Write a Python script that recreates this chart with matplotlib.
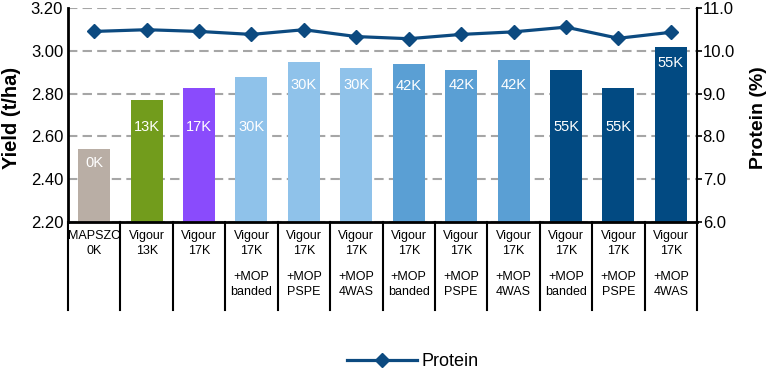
import matplotlib
matplotlib.use("Agg")
import matplotlib.pyplot as plt
import matplotlib.transforms as mtransforms

plt.rcParams['font.family'] = ['Liberation Sans', 'DejaVu Sans']

# treatment labels (top line pair / bottom line pair)
top_labels = ["MAPSZC\n0K", "Vigour\n13K", "Vigour\n17K", "Vigour\n17K", "Vigour\n17K", "Vigour\n17K",
              "Vigour\n17K", "Vigour\n17K", "Vigour\n17K", "Vigour\n17K", "Vigour\n17K", "Vigour\n17K"]
bottom_labels = ["", "", "", "+MOP\nbanded", "+MOP\nPSPE", "+MOP\n4WAS",
                 "+MOP\nbanded", "+MOP\nPSPE", "+MOP\n4WAS", "+MOP\nbanded", "+MOP\nPSPE", "+MOP\n4WAS"]
k_labels = ["0K", "13K", "17K", "30K", "30K", "30K", "42K", "42K", "42K", "55K", "55K", "55K"]
yield_t_ha = [2.54, 2.77, 2.825, 2.876, 2.946, 2.918, 2.938, 2.909, 2.956, 2.909, 2.825, 3.016]
protein_pct = [10.45, 10.49, 10.45, 10.38, 10.49, 10.33, 10.28, 10.38, 10.44, 10.55, 10.29, 10.43]

bar_colors = ['#b9aea5', '#729c1c', '#8a4bfc', '#8fc2ea', '#8fc2ea', '#8fc2ea',
              '#5a9fd4', '#5a9fd4', '#5a9fd4', '#024a82', '#024a82', '#024a82']
label_y = [2.476, 2.644, 2.644, 2.644, 2.84, 2.84, 2.835, 2.84, 2.84, 2.644, 2.644, 2.944]
line_color = '#0c4a80'

fig = plt.figure(figsize=(7.7, 3.75), dpi=100)
ax = fig.add_axes([0.0883, 0.408, 0.817, 0.571])
x = list(range(len(yield_t_ha)))

ax.bar(x, yield_t_ha, width=0.61, color=bar_colors, zorder=2)
for i, lab in enumerate(k_labels):
    ax.text(i, label_y[i], lab, color='white', ha='center', va='center', fontsize=10.5, zorder=3)

ax.set_ylim(2.2, 3.2)
ax.set_xlim(-0.5, len(x) - 0.5)
ax.set_yticks([2.2, 2.4, 2.6, 2.8, 3.0, 3.2])
ax.set_yticklabels(["%.2f" % v for v in [2.2, 2.4, 2.6, 2.8, 3.0, 3.2]], fontsize=12)
ax.tick_params(axis='y', length=0, pad=3.5)
ax.set_xticks([])
ax.yaxis.grid(True, color='#a6a6a6', linewidth=1.5, linestyle=(0, (4.5, 2.5)))
ax.set_axisbelow(True)
ax.set_ylabel("Yield (t/ha)", fontsize=14.5, fontweight='bold')
ax.yaxis.set_label_coords(-0.0747, 0.486)
for s in ['top', 'right']:
    ax.spines[s].set_visible(False)
ax.spines['left'].set_linewidth(2)
ax.spines['bottom'].set_linewidth(2)

# category table under the axis
trans = mtransforms.blended_transform_factory(ax.transData, ax.transAxes)
for b in [i - 0.5 for i in range(len(x) + 1)]:
    ax.plot([b, b], [0, -0.411], transform=trans, color='black', lw=1.5, clip_on=False)
for i in x:
    ax.text(i, -0.1005, top_labels[i], transform=trans, ha='center', va='center', fontsize=9, linespacing=1.25)
    if bottom_labels[i]:
        ax.text(i, -0.292, bottom_labels[i], transform=trans, ha='center', va='center', fontsize=9, linespacing=1.25)

ax2 = ax.twinx()
ax2.plot(x, protein_pct, color=line_color, lw=2.3, marker='D', markersize=7.5,
         markerfacecolor=line_color, markeredgecolor=line_color, label='Protein')
ax2.set_ylim(6.0, 11.0)
ax2.set_yticks([6, 7, 8, 9, 10, 11])
ax2.set_yticklabels(["%.1f" % v for v in [6, 7, 8, 9, 10, 11]], fontsize=12)
ax2.tick_params(axis='y', length=3.5, width=1.2, pad=0.5)
ax2.set_ylabel("Protein (%)", fontsize=14, fontweight='bold', rotation=90)
ax2.yaxis.set_label_coords(1.084, 0.486)
for s in ['top', 'left', 'bottom']:
    ax2.spines[s].set_visible(False)
ax2.spines['right'].set_linewidth(1.5)

h, l = ax2.get_legend_handles_labels()
fig.legend(h, l, loc='center', bbox_to_anchor=(0.536, 0.035), frameon=False,
           fontsize=13, handlelength=3.9, handletextpad=0.25)

fig.savefig("out.png", dpi=100)
